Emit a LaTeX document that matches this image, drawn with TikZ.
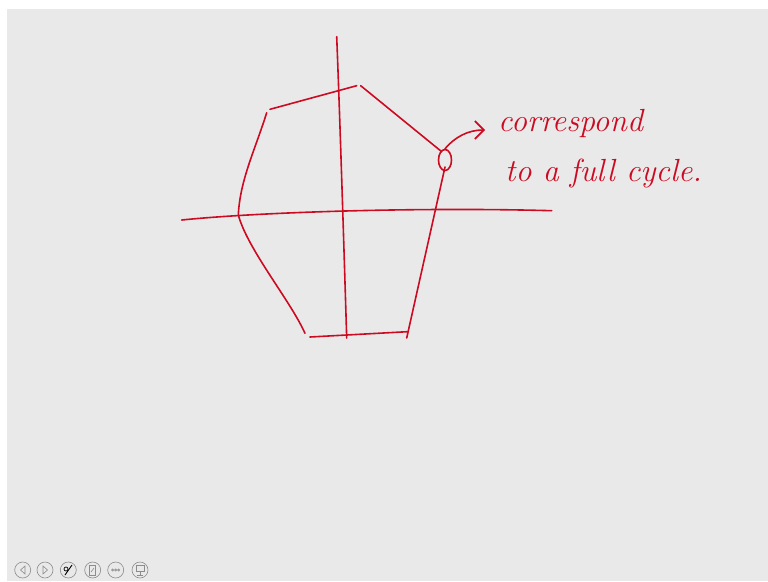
\documentclass[tikz,border=0pt]{standalone}
\usepackage{tikz}
\usetikzlibrary{arrows.meta,positioning,shapes.geometric}
\definecolor{inkred}{RGB}{204,10,34}
\definecolor{boardgray}{RGB}{233,233,233}
\definecolor{iconcolor}{RGB}{140,140,140}

\begin{document}
\begin{tikzpicture}[x=1pt,y=-1pt,
    pen/.style={inkred, line width=1.6pt, line cap=round, line join=round},
    script/.style={inkred, font=\fontsize{32}{36}\selectfont\itshape, inner sep=0pt},
    icon/.style={iconcolor, line width=0.6pt}]
    % board
    \useasboundingbox (0,0) rectangle (768,581);
    \fill[white] (0,0) rectangle (768,581);
    \fill[boardgray] (7,9) rectangle (768,581);
    % axes
    \draw[pen] (336.7,36.7) .. controls (340,120) and (344,250) .. (346.7,338);
    \draw[pen] (181.7,220) .. controls (260,212) and (420,207) .. (551.7,210.7);
    % closed contour, drawn in strokes
    \draw[pen] (270,109.3) -- (356.7,85.7);
    \draw[pen] (360.7,85.7) -- (441.7,151.7);
    \draw[pen] (445,167) -- (406.7,338);
    \draw[pen] (310,337) -- (407.3,331.7);
    \draw[pen] (266.7,112.7) .. controls (255,150) and (240,180) .. (238.3,215);
    \draw[pen] (238.3,215) .. controls (248,250) and (290,300) .. (305,333.3);
    % marked point and remark
    \node[pen, draw, ellipse, minimum width=13pt, minimum height=21pt, inner sep=0pt] (mark) at (445,160) {};
    \node[script, anchor=base west] (word1) at (498,131.7) {correspond};
    \node[script, anchor=base west] (word2) at (505,181.7) {to a full cycle.};
    \coordinate (tip) at (485,130);
    \draw[pen, -{Straight Barb[length=9pt,width=18pt]}] (mark.north) .. controls (455,137) and (468,130) .. (tip);
    % toolbar
    \foreach \x in {22.7,45,68.3,92.7,115.7,140}{
      \draw[icon] (\x,570) circle (8);
    }
    \draw[icon] (25,566) -- (20.5,570) -- (25,574) -- cycle;
    \draw[icon] (43,566) -- (47.5,570) -- (43,574) -- cycle;
    \draw[black, line width=0.9pt] (65,575) -- (72,565);
    \draw[black, line width=0.7pt] (66,569) circle (2);
    \draw[icon] (89.5,565) rectangle (95.5,575);
    \draw[icon] (91,572) -- (94,568);
    \foreach \dx in {-3,0,3}{
      \draw[icon] (115.7+\dx,570) circle (1.1);
    }
    \draw[icon] (136,565) rectangle (144,571);
    \draw[icon] (140,571) -- (140,575) (137,575) -- (143,575);
\end{tikzpicture}
\end{document}
